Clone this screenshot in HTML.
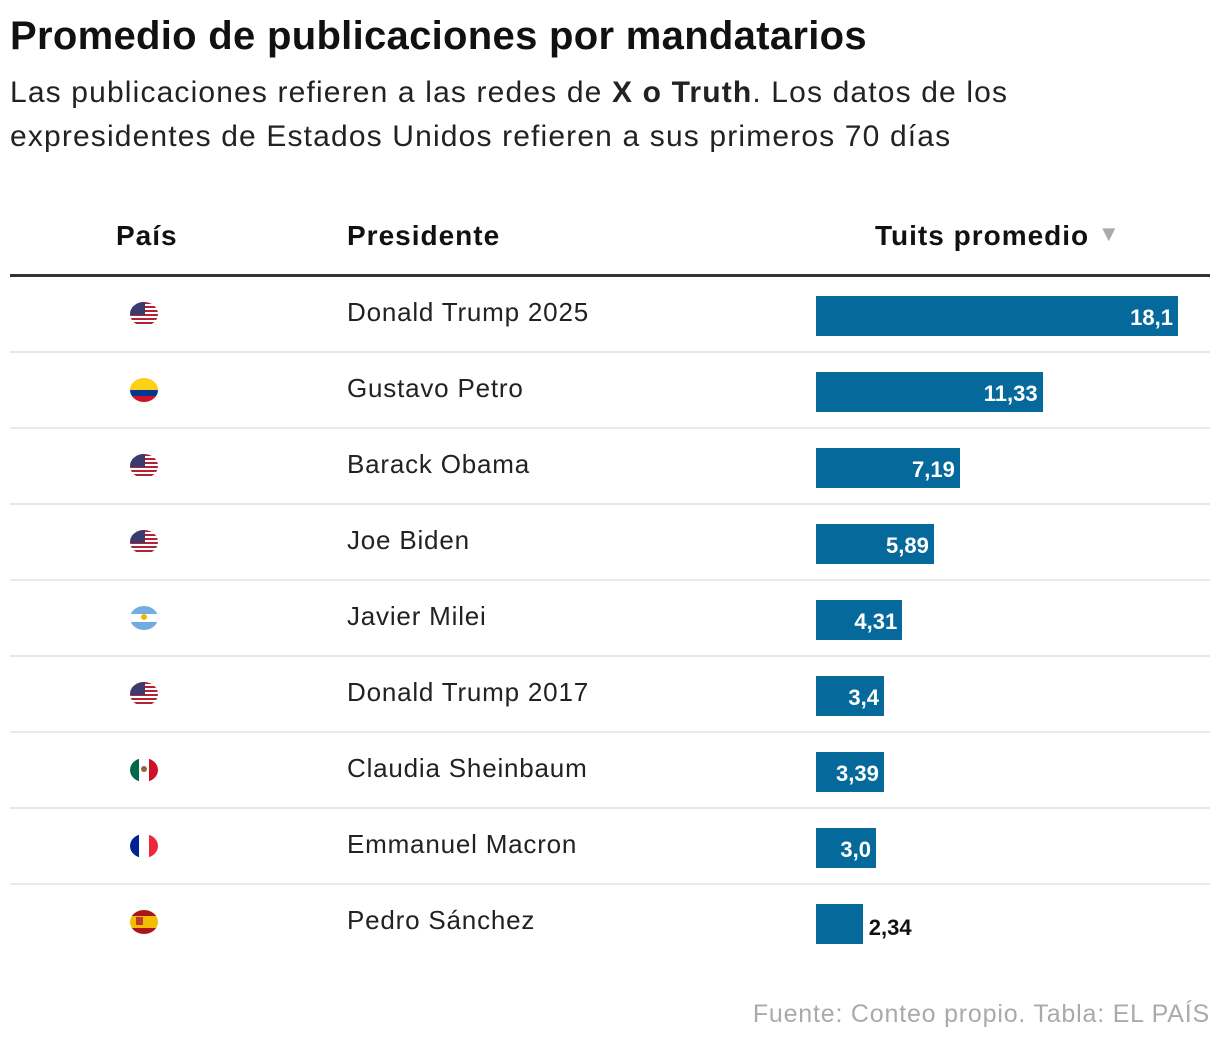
<!DOCTYPE html>
<html><head><meta charset="utf-8">
<style>
body{margin:0;width:1220px;height:1044px;background:#fff;font-family:"Liberation Sans",sans-serif;color:#111;position:relative;overflow:hidden}
.abs{position:absolute;white-space:nowrap}
#title{left:10px;top:14px;font-size:40px;font-weight:bold;letter-spacing:0.3px}
#sub{left:10px;top:71px;font-size:30px;line-height:44px;color:#222;letter-spacing:1.15px}
.hdr{top:220px;font-size:28px;font-weight:bold;letter-spacing:1px}
.name{font-size:26px;color:#222;letter-spacing:0.8px}
.bar{background:#06699b;height:40px}
.val{font-size:22px;font-weight:bold}
</style></head><body>
<div class="abs" id="title">Promedio de publicaciones por mandatarios</div>
<div class="abs" id="sub">Las publicaciones refieren a las redes de <b>X o Truth</b>. Los datos de los<br>expresidentes de Estados Unidos refieren a sus primeros 70 días</div>
<div class="abs hdr" style="left:116px">País</div>
<div class="abs hdr" style="left:347px">Presidente</div>
<div class="abs hdr" style="left:875px">Tuits promedio <span style="color:#aaa;font-size:22px;vertical-align:4px">▼</span></div>
<div class="abs" style="left:10px;top:274px;width:1200px;height:3px;background:#333"></div>
<div id="rows"></div>
<div class="abs" style="right:10px;top:1000px;font-size:25px;color:#aaa;letter-spacing:0.8px">Fuente: Conteo propio. Tabla: EL PAÍS</div>
<script>
const names=["Donald Trump 2025","Gustavo Petro","Barack Obama","Joe Biden","Javier Milei","Donald Trump 2017","Claudia Sheinbaum","Emmanuel Macron","Pedro Sánchez"];
const countries=["us","co","us","us","ar","us","mx","fr","es"];
const values=[18.1,11.33,7.19,5.89,4.31,3.4,3.39,3.0,2.34];
const labels=["18,1","11,33","7,19","5,89","4,31","3,4","3,39","3,0","2,34"];
const x0=816, scale=20, rowTop=277, rowH=76;
function xs(v){return v*scale;}
function flag(c){
  const s={us:"repeating-linear-gradient(#b22234 0 2px,#fff 2px 4px)",
  co:"linear-gradient(#fcd116 0 50%,#003893 50% 75%,#ce1126 75%)",
  ar:"linear-gradient(#74acdf 0 33%,#fff 33% 67%,#74acdf 67%)",
  mx:"linear-gradient(90deg,#006847 0 33%,#fff 33% 67%,#ce1126 67%)",
  fr:"linear-gradient(90deg,#002395 0 33%,#fff 33% 67%,#ed2939 67%)",
  es:"linear-gradient(#aa151b 0 25%,#f1bf00 25% 75%,#aa151b 75%)"}[c];
  let inner=c==="us"?'<div style="position:absolute;left:0;top:0;width:55%;height:55%;background:#3c3b6e"></div>':'';
  if(c==="ar"||c==="mx")inner='<div style="position:absolute;left:11px;top:8px;width:6px;height:6px;border-radius:50%;background:'+(c==="ar"?"#f6b40e":"#8a6b3a")+'"></div>';
  if(c==="es")inner='<div style="position:absolute;left:6px;top:7px;width:7px;height:8px;background:#c0392b"></div>';
  return '<div style="position:relative;width:28px;height:24px;border-radius:50%;overflow:hidden;background:'+s+'">'+inner+'</div>';
}
const root=document.getElementById('rows');
values.forEach((v,i)=>{
  const top=rowTop+i*rowH;
  const r=document.createElement('div');
  r.className='abs';r.style.cssText=`left:10px;top:${top}px;width:1200px;height:${rowH}px`;
  
  
  if(i<values.length-1){const l=document.createElement('div');l.className='abs';l.style.cssText='left:0;bottom:0;width:1200px;height:2px;background:#e8e8e8';
  
  r.appendChild(l);}
  const f=document.createElement('div');f.className='abs';f.style.cssText='left:120px;top:25px';f.innerHTML=flag(countries[i]);
  
  r.appendChild(f);
  const n=document.createElement('div');n.className='abs name';n.style.cssText='left:337px;top:20px';n.textContent=names[i];
  
  r.appendChild(n);
  const w=xs(v);
  const b=document.createElement('div');b.className='abs bar';b.style.cssText=`left:${x0-10}px;top:19px;width:${w}px`;
  
  r.appendChild(b);
  const t=document.createElement('div');t.className='abs val';t.textContent=labels[i];
  
  
  if(w>52){t.style.cssText=`right:${1200-(x0-10+w)+5}px;top:28px;color:#fff`;}
  else{t.style.cssText=`left:${x0-10+w+6}px;top:30px;color:#111`;}
  r.appendChild(t);
  root.appendChild(r);
});
</script>
</body></html>
